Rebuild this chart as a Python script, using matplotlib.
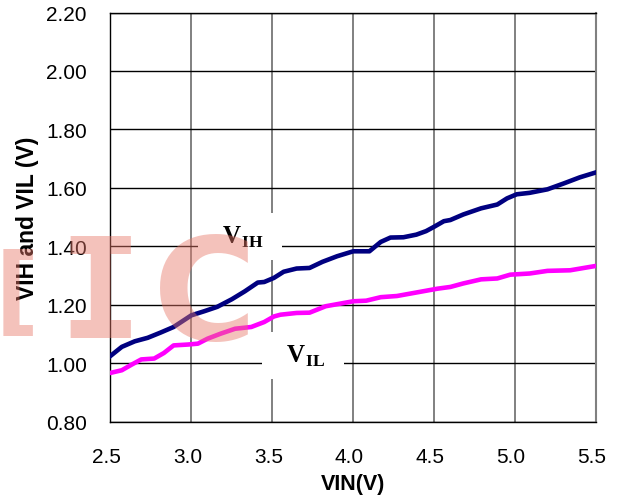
import numpy as np
import matplotlib
matplotlib.use('Agg')
import matplotlib.pyplot as plt
import matplotlib.transforms as mtransforms

# curve readings (VIN in V)
vin_ih = [2.50, 2.57, 2.65, 2.73, 2.81, 2.89, 3.00, 3.08, 3.16, 3.25, 3.33, 3.41,
          3.45, 3.51, 3.57, 3.65, 3.73, 3.81, 3.90, 4.00, 4.10, 4.17, 4.23, 4.31,
          4.39, 4.45, 4.50, 4.56, 4.60, 4.68, 4.79, 4.89, 4.95, 5.01, 5.09, 5.20,
          5.30, 5.40, 5.50]
vih = [1.025, 1.056, 1.075, 1.087, 1.105, 1.124, 1.164, 1.178, 1.193, 1.219, 1.246, 1.276,
       1.278, 1.292, 1.313, 1.324, 1.326, 1.347, 1.366, 1.383, 1.383, 1.415, 1.430, 1.431,
       1.440, 1.452, 1.467, 1.486, 1.490, 1.509, 1.530, 1.543, 1.564, 1.578, 1.583, 1.595,
       1.615, 1.636, 1.653]

vin_il = [2.50, 2.57, 2.63, 2.69, 2.77, 2.83, 2.89, 2.98, 3.04, 3.10, 3.18, 3.27,
          3.37, 3.45, 3.51, 3.55, 3.65, 3.73, 3.83, 3.92, 4.00, 4.08, 4.17, 4.27,
          4.35, 4.43, 4.52, 4.60, 4.68, 4.79, 4.89, 4.97, 5.09, 5.20, 5.34, 5.50]
vil = [0.967, 0.976, 0.995, 1.013, 1.016, 1.035, 1.061, 1.064, 1.067, 1.084, 1.101, 1.118,
       1.124, 1.141, 1.160, 1.166, 1.172, 1.173, 1.195, 1.204, 1.212, 1.214, 1.226, 1.230,
       1.238, 1.246, 1.255, 1.261, 1.273, 1.287, 1.290, 1.303, 1.307, 1.316, 1.318, 1.333]

xticks = [2.5, 3.0, 3.5, 4.0, 4.5, 5.0, 5.5]
xtick_labels = ['2.5', '3.0', '3.5', '4.0', '4.5', '5.0', '5.5']
yticks = [0.8, 1.0, 1.2, 1.4, 1.6, 1.8, 2.0, 2.2]
ytick_labels = ['0.80', '1.00', '1.20', '1.40', '1.60', '1.80', '2.00', '2.20']

plt.rcParams['font.family'] = ['Liberation Sans', 'DejaVu Sans']
plt.rcParams['mathtext.fontset'] = 'custom'
plt.rcParams['mathtext.rm'] = 'Liberation Serif'
plt.rcParams['mathtext.bf'] = 'Liberation Serif:bold'

fig = plt.figure(figsize=(6.2, 5.02), dpi=100)
ax = fig.add_axes([0.1782, 0.158, 0.7831, 0.8151])

ax.plot(vin_ih, vih, color='#000080', lw=3.3, zorder=3)
ax.plot(vin_il, vil, color='#ff00ff', lw=3.3, zorder=3)

ax.set_xlim(2.5, 5.5)
ax.set_ylim(0.8, 2.2)
ax.set_xticks(xticks)
ax.set_xticklabels(xtick_labels)
ax.set_yticks(yticks)
ax.set_yticklabels(ytick_labels)
ax.tick_params(length=0, labelsize=15)
ax.tick_params(axis='x', pad=18)
ax.tick_params(axis='y', pad=17)

ax.set_axisbelow(True)
ax.xaxis.grid(True, color='#808080', lw=1.4)
ax.yaxis.grid(True, color='black', lw=1.0)
for s in ['top', 'bottom', 'left']:
    ax.spines[s].set_color('black')
    ax.spines[s].set_linewidth(1.0)
ax.spines['right'].set_color('#808080')
ax.spines['right'].set_linewidth(1.5)

# excel puts the x labels a bit to the left
shift = mtransforms.ScaledTranslation(-4 / 100, 0, fig.dpi_scale_trans)
for lbl in ax.get_xticklabels():
    lbl.set_transform(lbl.get_transform() + shift)

ax.set_xlabel('VIN(V)', fontsize=15.5, fontweight='bold', labelpad=5)
ax.set_ylabel('VIH and VIL (V)', fontsize=16.5, fontweight='bold', labelpad=5)

box = dict(facecolor='white', edgecolor='none', boxstyle='square,pad=0.45')
ax.text(3.30, 1.434, r'  $\mathbf{V}_{\mathbf{IH}}$  ', ha='center', va='center',
        fontsize=18, bbox=box, zorder=2.5)
ax.text(3.69, 1.026, r'  $\mathbf{V}_{\mathbf{IL}}$  ', ha='center', va='center',
        fontsize=18, bbox=box, zorder=2.5)

# watermark
wm = dict(color='#e8786a', alpha=0.45, va='center', ha='center', zorder=5)
fig.text(17 / 620, 1 - 295 / 502, '[', fontsize=70, family='DejaVu Sans',
         fontweight='bold', **wm)
fig.text(100 / 620, 1 - 300 / 502, 'I', fontsize=100, family='DejaVu Sans Mono',
         fontweight='bold', **wm)
fig.text(205 / 620, 1 - 301 / 502, 'C', fontsize=102, family='DejaVu Sans',
         fontweight='semibold', **wm)

fig.savefig('out.png', dpi=100)
